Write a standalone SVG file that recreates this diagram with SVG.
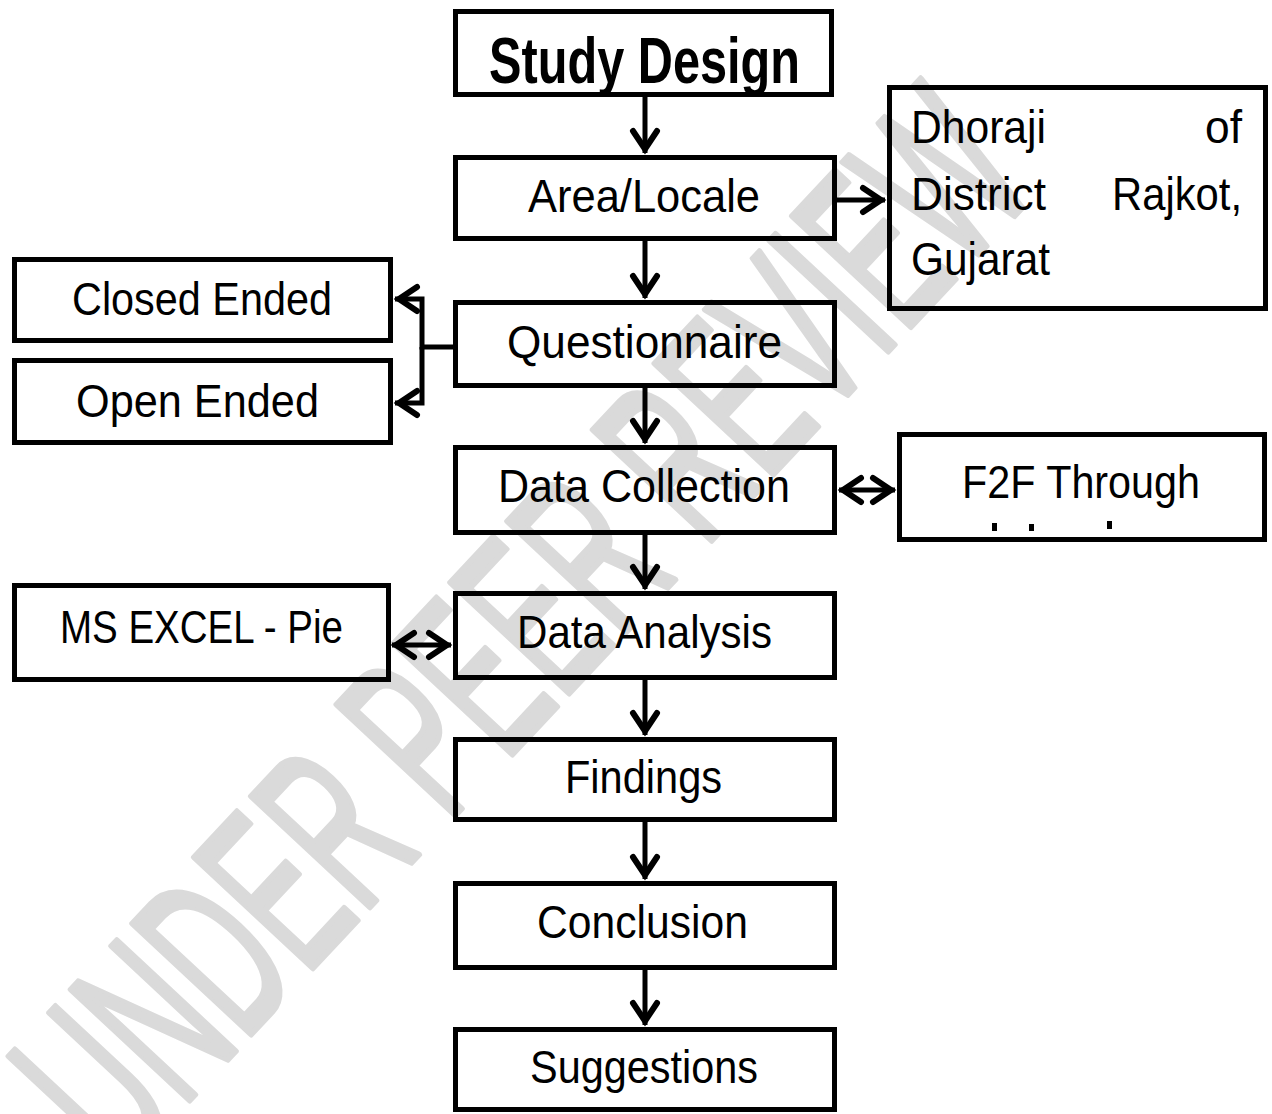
<svg xmlns="http://www.w3.org/2000/svg" width="1272" height="1114" viewBox="0 0 1272 1114">
  <defs>
    <marker id="arr" markerUnits="userSpaceOnUse" markerWidth="34" markerHeight="34" viewBox="-30 -17 34 34" refX="0" refY="0" orient="auto-start-reverse">
      <path d="M-22,-12 L-4,0 L-22,12" fill="none" stroke="#000" stroke-width="6" stroke-linecap="round" stroke-linejoin="miter"/>
    </marker>
    <clipPath id="clipSD"><rect x="458" y="14" width="371" height="78"/></clipPath>
    <style>
      .box { fill: none; stroke: #000; stroke-width: 5; }
      .t { font-family: "Liberation Sans Narrow", "Liberation Sans", Arial, sans-serif; font-size: 46px; fill: #000; }
      .title { font-family: "Liberation Sans Narrow", "Liberation Sans", Arial, sans-serif; font-weight: bold; font-size: 64px; fill: #000; }
      .wire { fill: none; stroke: #000; stroke-width: 5; }
      .wm { font-family: "Liberation Sans", Arial, sans-serif; font-size: 236px; fill: #dadada; stroke: #dadada; stroke-width: 6; stroke-linejoin: round; stroke-linecap: round; }
    </style>
  </defs>
  <rect width="1272" height="1114" fill="#fff"/>

  <g id="watermark">
    <text class="wm" x="120" y="1175" transform="rotate(-47 120 1175)" textLength="1350" lengthAdjust="spacingAndGlyphs">UNDER PEER REVIEW</text>
  </g>

  <g id="connectors">
    <path class="wire" d="M645,97 V153" marker-end="url(#arr)"/>
    <path class="wire" d="M645,240 V298" marker-end="url(#arr)"/>
    <path class="wire" d="M645,388 V443" marker-end="url(#arr)"/>
    <path class="wire" d="M645,535 V589" marker-end="url(#arr)"/>
    <path class="wire" d="M645,680 V735" marker-end="url(#arr)"/>
    <path class="wire" d="M645,822 V879" marker-end="url(#arr)"/>
    <path class="wire" d="M645,970 V1025" marker-end="url(#arr)"/>
    <path class="wire" d="M837,200 H885" marker-end="url(#arr)"/>
    <path class="wire" d="M453,347 H422 V299 H395" marker-end="url(#arr)"/>
    <path class="wire" d="M422,347 V403 H395" marker-end="url(#arr)"/>
    <path class="wire" d="M839,490 H895" marker-start="url(#arr)" marker-end="url(#arr)"/>
    <path class="wire" d="M392,645 H451" marker-start="url(#arr)" marker-end="url(#arr)"/>
  </g>

  <g id="study-design">
    <rect class="box" x="455.5" y="11.5" width="376" height="83"/>
    <text class="title" x="489" y="83" textLength="311" lengthAdjust="spacingAndGlyphs" clip-path="url(#clipSD)">Study Design</text>
  </g>

  <g id="area-locale">
    <rect class="box" x="455.5" y="157.5" width="379" height="81"/>
    <text class="t" x="528" y="212" textLength="232" lengthAdjust="spacingAndGlyphs">Area/Locale</text>
  </g>

  <g id="dhoraji">
    <rect class="box" x="889.5" y="87.5" width="376" height="221"/>
    <text class="t" x="911" y="143" textLength="135" lengthAdjust="spacingAndGlyphs">Dhoraji</text>
    <text class="t" x="1205" y="143" textLength="37" lengthAdjust="spacingAndGlyphs">of</text>
    <text class="t" x="911" y="210" textLength="135" lengthAdjust="spacingAndGlyphs">District</text>
    <text class="t" x="1112" y="210" textLength="130" lengthAdjust="spacingAndGlyphs">Rajkot,</text>
    <text class="t" x="911" y="275" textLength="139" lengthAdjust="spacingAndGlyphs">Gujarat</text>
  </g>

  <g id="closed-ended">
    <rect class="box" x="14.5" y="259.5" width="376" height="81"/>
    <text class="t" x="72" y="315" textLength="260" lengthAdjust="spacingAndGlyphs">Closed Ended</text>
  </g>

  <g id="open-ended">
    <rect class="box" x="14.5" y="360.5" width="376" height="82"/>
    <text class="t" x="76" y="417" textLength="243" lengthAdjust="spacingAndGlyphs">Open Ended</text>
  </g>

  <g id="questionnaire">
    <rect class="box" x="455.5" y="302.5" width="379" height="83"/>
    <text class="t" x="507" y="358" textLength="275" lengthAdjust="spacingAndGlyphs">Questionnaire</text>
  </g>

  <g id="data-collection">
    <rect class="box" x="455.5" y="447.5" width="379" height="85"/>
    <text class="t" x="498" y="502" textLength="292" lengthAdjust="spacingAndGlyphs">Data Collection</text>
  </g>

  <g id="f2f">
    <rect class="box" x="899.5" y="434.5" width="365" height="105"/>
    <text class="t" x="962" y="498" textLength="238" lengthAdjust="spacingAndGlyphs">F2F Through</text>
    <g fill="#000">
      <rect x="992" y="523" width="5" height="8"/>
      <rect x="1029" y="524" width="5" height="7"/>
      <rect x="1107" y="521" width="5" height="8"/>
    </g>
  </g>

  <g id="ms-excel">
    <rect class="box" x="14.5" y="585.5" width="374" height="94"/>
    <text class="t" x="60" y="643" textLength="283" lengthAdjust="spacingAndGlyphs">MS EXCEL - Pie</text>
  </g>

  <g id="data-analysis">
    <rect class="box" x="455.5" y="593.5" width="379" height="84"/>
    <text class="t" x="517" y="648" textLength="255" lengthAdjust="spacingAndGlyphs">Data Analysis</text>
  </g>

  <g id="findings">
    <rect class="box" x="455.5" y="739.5" width="379" height="80"/>
    <text class="t" x="565" y="793" textLength="157" lengthAdjust="spacingAndGlyphs">Findings</text>
  </g>

  <g id="conclusion">
    <rect class="box" x="455.5" y="883.5" width="379" height="84"/>
    <text class="t" x="537" y="938" textLength="211" lengthAdjust="spacingAndGlyphs">Conclusion</text>
  </g>

  <g id="suggestions">
    <rect class="box" x="455.5" y="1029.5" width="379" height="80"/>
    <text class="t" x="530" y="1083" textLength="228" lengthAdjust="spacingAndGlyphs">Suggestions</text>
  </g>
</svg>
